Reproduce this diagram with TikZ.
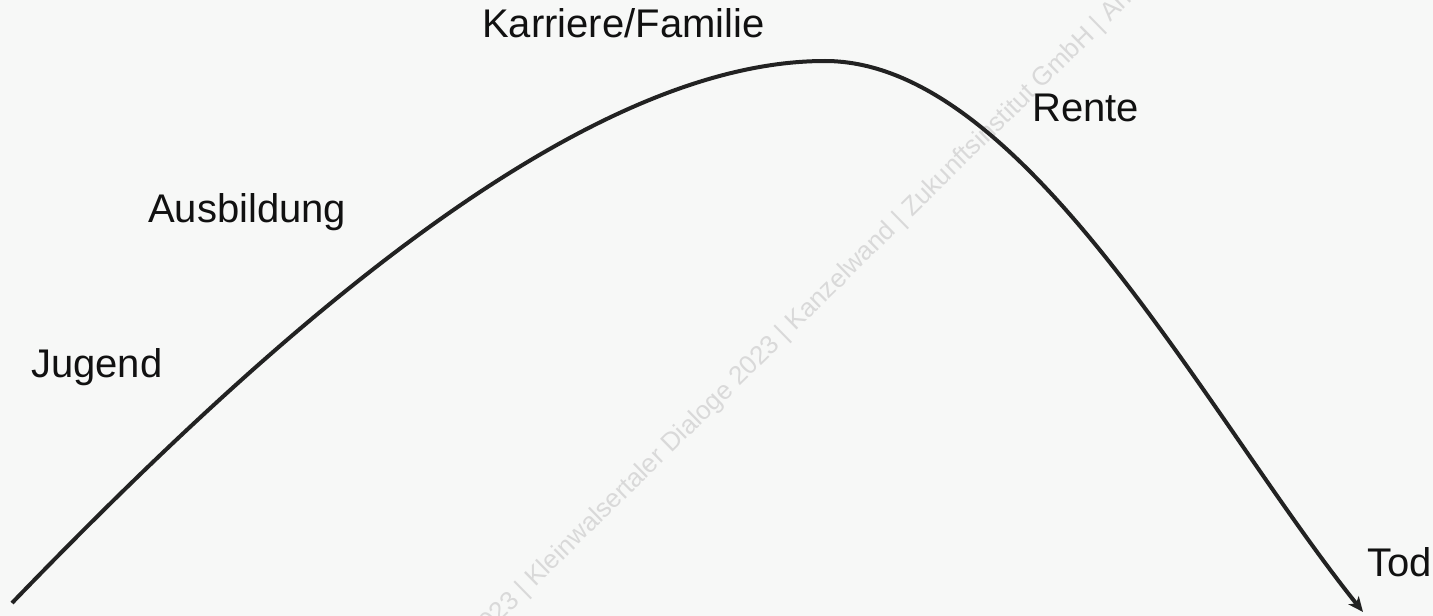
\documentclass[tikz,border=0pt]{standalone}
\usepackage{fontspec}
\setmainfont{Liberation Sans}
\usetikzlibrary{arrows.meta}
\definecolor{bgc}{HTML}{F7F8F7}
\definecolor{ink}{HTML}{111111}
\definecolor{curvec}{HTML}{222222}
\definecolor{wmc}{HTML}{D9D9D9}
\begin{document}
\begin{tikzpicture}[x=1bp,y=-1bp,
  lbl/.style={font=\fontsize{40bp}{48bp}\selectfont, text=ink, inner sep=0pt, anchor=base west},
  wm/.style={font=\fontsize{26bp}{30bp}\selectfont, text=wmc, inner sep=0pt, rotate=44.5},
  life/.style={draw=curvec, line width=4bp, -{Stealth[length=15bp,width=13bp,inset=4bp]}}]
\fill[bgc] (0,0) rectangle (1433,616);
\useasboundingbox (0,0) rectangle (1433,616);
\begin{scope}
\clip (0,0) rectangle (1433,616);
\node[wm, anchor=base west] (wm) at (479,643) {2023 | Kleinwalsertaler Dialoge 2023 | Kanzelwand | Zukunftsinstitut GmbH | An};
\end{scope}
\coordinate (start) at (12,603);
\coordinate (peak) at (825,61);
\coordinate (tip) at (1363,612);
\draw[life] (start) .. controls (262,344) and (575,61) .. (peak) .. controls (1025,61) and (1207,417) .. (tip);
\node[lbl] (karriere) at (482,38) {Karriere/Familie};
\node[lbl] (ausbildung) at (148,222) {Ausbildung};
\node[lbl] (jugend) at (31,377) {Jugend};
\node[lbl] (rente) at (1032,122) {Rente};
\node[lbl] (tod) at (1367,576) {Tod};
\end{tikzpicture}
\end{document}
